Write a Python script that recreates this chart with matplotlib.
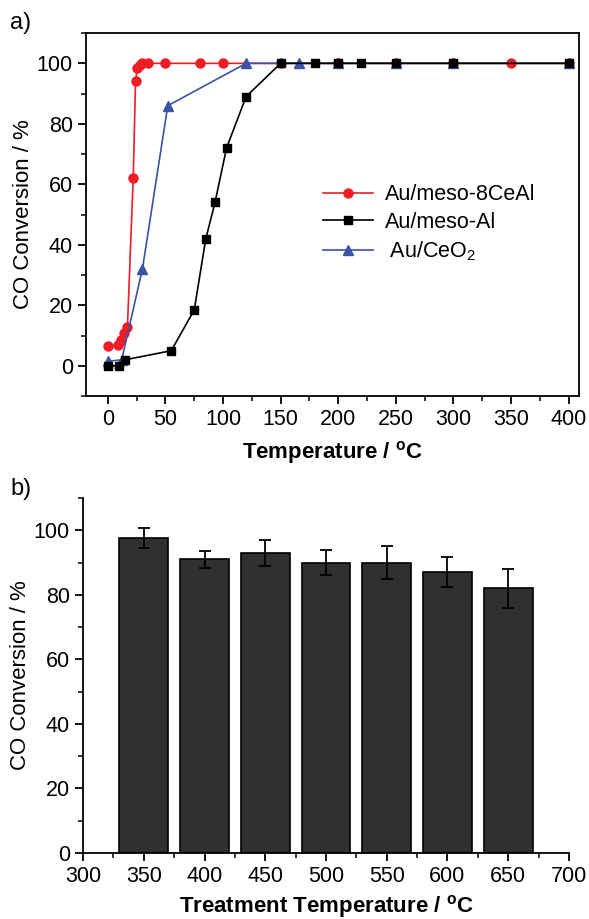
import matplotlib
matplotlib.use("Agg")
import matplotlib.pyplot as plt
from matplotlib.ticker import MultipleLocator

plt.rcParams['font.family'] = ['Liberation Sans', 'DejaVu Sans']
plt.rcParams['mathtext.fontset'] = 'custom'
plt.rcParams['mathtext.rm'] = 'Liberation Sans'
plt.rcParams['mathtext.bf'] = 'Liberation Sans:bold'
plt.rcParams['axes.linewidth'] = 1.3

# (a) light-off curves
t_ceal = [0, 9, 11, 14, 17, 22, 24, 25.5, 28, 30, 35, 50, 80, 100,
          150, 200, 250, 300, 350, 400]
x_ceal = [6.6, 7, 8.5, 11, 13, 62, 94, 98.5, 99.5, 100, 100, 100, 100, 100,
          100, 100, 100, 100, 100, 100]

t_al = [0, 10, 15, 55, 75, 85, 93, 103, 120, 150, 180, 200, 220, 250, 300, 400]
x_al = [0, 0, 2, 5, 18.5, 42, 54, 72, 89, 100, 100, 100, 100, 100, 100, 100]

t_ceo2 = [0, 12, 30, 52, 120, 166, 200, 250, 300, 400]
x_ceo2 = [1.5, 2, 32, 86, 100, 100, 100, 100, 100, 100]

# (b) conversion after treatment at each temperature
treat_temp = [350, 400, 450, 500, 550, 600, 650]
treat_conv = [97.5, 91, 93, 90, 90, 87, 82]
treat_err = [3.1, 2.7, 4, 3.8, 5, 4.6, 6]

TICK_FS = 15.5
LABEL_FS = 16
BOLD_FS = 16

fig = plt.figure(figsize=(5.89, 9.19), dpi=100)
ax1 = fig.add_axes([0.146, 0.569, 0.837, 0.395])
ax2 = fig.add_axes([0.141, 0.072, 0.825, 0.386])

ax1.plot(t_ceal, x_ceal, color='#ee1c25', marker='o', ms=6.5, lw=1.2,
         label='Au/meso-8CeAl', zorder=2)
ax1.plot(t_al, x_al, color='black', marker='s', ms=5.5, lw=1.2,
         label='Au/meso-Al', zorder=4)
ax1.plot(t_ceo2, x_ceo2, color='#3a53a4', marker='^', ms=7, lw=1.2,
         label=' Au/CeO$_2$', zorder=3)
ax1.legend(frameon=False, fontsize=15.5, loc='center left',
           bbox_to_anchor=(0.481, 0.475), borderpad=0, borderaxespad=0,
           handlelength=2.3, handletextpad=0.55, labelspacing=0.3)

ax1.set_xlim(-19, 409)
ax1.set_ylim(-10, 110)
ax1.xaxis.set_major_locator(MultipleLocator(50))
ax1.xaxis.set_minor_locator(MultipleLocator(25))
ax1.yaxis.set_major_locator(MultipleLocator(20))
ax1.yaxis.set_minor_locator(MultipleLocator(10))
ax1.set_xlabel(r'Temperature / $\mathbf{^{o}}$C', fontsize=BOLD_FS,
               fontweight='bold', labelpad=6)
ax1.set_ylabel('CO Conversion / %', fontsize=LABEL_FS, labelpad=2)

ax2.bar(treat_temp, treat_conv, width=40, color='#303030', edgecolor='black',
        linewidth=1.2, yerr=treat_err, capsize=4,
        error_kw=dict(elinewidth=1.3, capthick=1.3, ecolor='black'))
ax2.set_xlim(300, 700)
ax2.set_ylim(0, 110)
ax2.spines['top'].set_visible(False)
ax2.spines['right'].set_visible(False)
ax2.xaxis.set_major_locator(MultipleLocator(50))
ax2.xaxis.set_minor_locator(MultipleLocator(25))
ax2.yaxis.set_major_locator(MultipleLocator(20))
ax2.yaxis.set_minor_locator(MultipleLocator(10))
ax2.set_xlabel(r'Treatment Temperature / $\mathbf{^{o}}$C', fontsize=BOLD_FS,
               fontweight='bold', labelpad=4)
ax2.set_ylabel('CO Conversion / %', fontsize=LABEL_FS, labelpad=2)

for ax in (ax1, ax2):
    ax.tick_params(which='major', direction='out', length=6, width=1.3,
                   labelsize=TICK_FS, colors='black')
    ax.tick_params(which='minor', direction='out', length=3.5, width=1.1)
    ax.tick_params(top=False, right=False, which='both')

fig.text(10 / 589, 1 - 12 / 919, 'a)', fontsize=17, va='top')
fig.text(10 / 589, 1 - 478 / 919, 'b)', fontsize=17, va='top')

fig.savefig('out.png', dpi=100)
